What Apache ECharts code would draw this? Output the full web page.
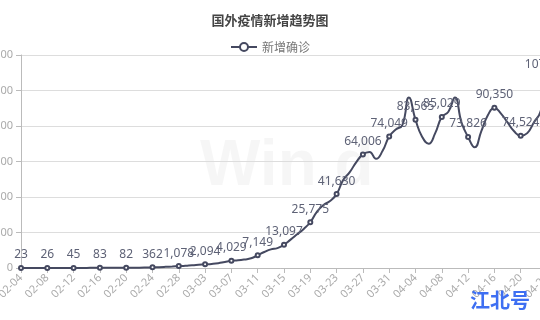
<!DOCTYPE html>
<html>
<head>
<meta charset="utf-8">
<script src="https://cdn.jsdelivr.net/npm/echarts@6/dist/echarts.min.js"></script>
<style>html,body{margin:0;padding:0;background:#fff;}#c{width:540px;height:320px;}</style>
</head>
<body>
<div id="c"></div>
<script>
const dates = ['02-04','02-05','02-06','02-07','02-08','02-09','02-10','02-11','02-12','02-13','02-14','02-15','02-16','02-17','02-18','02-19','02-20','02-21','02-22','02-23','02-24','02-25','02-26','02-27','02-28','02-29','03-01','03-02','03-03','03-04','03-05','03-06','03-07','03-08','03-09','03-10','03-11','03-12','03-13','03-14','03-15','03-16','03-17','03-18','03-19','03-20','03-21','03-22','03-23','03-24','03-25','03-26','03-27','03-28','03-29','03-30','03-31','04-01','04-02','04-03','04-04','04-05','04-06','04-07','04-08','04-09','04-10','04-11','04-12','04-13','04-14','04-15','04-16','04-17','04-18','04-19','04-20','04-21','04-22','04-23','04-24'];
const newCases = [23,18,30,25,26,34,40,52,45,60,70,78,83,95,120,100,82,110,150,240,362,480,650,850,1078,1300,1600,1850,2094,2300,2700,3400,4029,4300,4800,5500,7149,9000,10500,11200,13097,16000,19000,22000,25775,31600,35500,37700,41630,49600,54000,59700,64006,65400,61500,66000,74049,78000,80500,96000,83565,74000,70000,76000,85029,88000,96000,82000,73826,68000,77000,86000,90350,87000,82000,77000,74524,76000,82000,88000,107128];
const yTicks = [0,20000,40000,60000,80000,100000,120000];

const chart = echarts.init(document.getElementById('c'));
chart.setOption({
  backgroundColor:'#fff',
  animation:false,
  title:{text:'国外疫情新增趋势图',left:'center',top:9,textStyle:{fontSize:13,fontWeight:'bold',color:'#444',fontFamily:'Noto Sans CJK SC'}},
  legend:{top:36,left:'center',itemWidth:26,itemHeight:10,textStyle:{color:'#777',fontSize:12,fontFamily:'Noto Sans CJK SC'},data:['新增确诊']},
  grid:{left:21,right:-7,top:55,bottom:52,containLabel:false,outerBoundsMode:'none'},
  graphic:[
    {type:'text',left:200,top:135,z:0,style:{text:'Win.d',fontSize:64,fontWeight:'bold',fill:'rgba(0,0,0,0.035)',fontFamily:'Arial'}},
    {type:'text',left:470,top:290,z:100,style:{text:'江北号',fontSize:20,fontWeight:'bold',fill:'#3e6ff2',fontFamily:'Noto Sans CJK SC'}}
  ],
  xAxis:{type:'category',data:dates,boundaryGap:false,
    axisLine:{lineStyle:{color:'#bbb'}},
    axisTick:{interval:3,lineStyle:{color:'#bbb'}},
    axisLabel:{interval:3,rotate:45,color:'#aaa',fontSize:11,fontFamily:'Noto Sans'}},
  yAxis:{type:'value',min:yTicks[0],max:yTicks[yTicks.length-1],interval:20000,
    axisLine:{show:true,lineStyle:{color:'#bbb'}},
    axisTick:{show:true,lineStyle:{color:'#bbb'}},
    splitLine:{lineStyle:{color:'#ddd'}},
    axisLabel:{color:'#aaa',fontSize:11,fontFamily:'Noto Sans',formatter:v=>v.toLocaleString('en-US')}},
  series:[{name:'新增确诊',type:'line',data:newCases,smooth:true,
    symbol:'emptyCircle',
    symbolSize:(v,p)=> (p.dataIndex%4===0?4:0),
    showAllSymbol:true,
    lineStyle:{color:'#454960',width:2},
    itemStyle:{color:'#454960',borderColor:'#8a8da0',borderWidth:1},
    label:{show:true,position:'top',distance:4,color:'#5e6276',fontSize:12,fontFamily:'Noto Sans',
      formatter:p=> (p.dataIndex%4===0? p.value.toLocaleString('en-US'):'')}
  }]
});
</script>
</body>
</html>
